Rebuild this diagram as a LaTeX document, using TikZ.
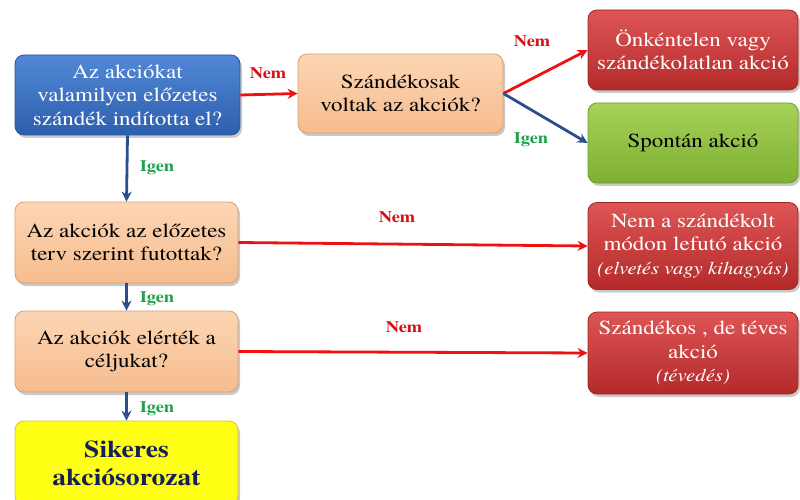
\documentclass[tikz,border=0pt]{standalone}
\usepackage{fontspec}
\setmainfont{texgyretermes}[Extension=.otf, UprightFont=*-regular,
  BoldFont=*-bold, ItalicFont=*-italic, BoldItalicFont=*-bolditalic,
  FakeStretch=1.15]
\usetikzlibrary{shadows,arrows.meta}
\definecolor{bluetop}{HTML}{5288D6}
\definecolor{bluebot}{HTML}{2C5FAE}
\definecolor{blueedge}{HTML}{2A5598}
\definecolor{peachtop}{HTML}{FCD6B4}
\definecolor{peachbot}{HTML}{F6BC8E}
\definecolor{peachedge}{HTML}{D9A074}
\definecolor{redtop}{HTML}{DE5555}
\definecolor{redbot}{HTML}{B42A2A}
\definecolor{rededge}{HTML}{A02424}
\definecolor{greentop}{HTML}{A6D25A}
\definecolor{greenbot}{HTML}{7DB030}
\definecolor{greenedge}{HTML}{6E9C2A}
\definecolor{yellowfill}{HTML}{FFFF14}
\definecolor{yellowedge}{HTML}{D8C040}
\definecolor{noline}{HTML}{EE1111}
\definecolor{yesline}{HTML}{2B4F8C}
\definecolor{nolabel}{HTML}{D40F0F}
\definecolor{yeslabel}{HTML}{1FA04A}
\definecolor{navytext}{HTML}{14205A}
\newcommand\remarkfont{\fontsize{18}{22}\selectfont\itshape}
\tikzset{
  x=1pt, y=-1pt,
  box/.style={rectangle, rounded corners=9pt, align=center, line width=0.8pt,
    drop shadow={shadow xshift=2pt, shadow yshift=-3pt, opacity=0.35, fill=black!60},
    inner sep=2pt, font=\fontsize{20}{23.5}\selectfont},
  bluebox/.style={box, draw=blueedge, top color=bluetop, bottom color=bluebot, text=white},
  peachbox/.style={box, draw=peachedge, top color=peachtop, bottom color=peachbot, text=black},
  redbox/.style={box, draw=rededge, top color=redtop, bottom color=redbot, text=white},
  greenbox/.style={box, draw=greenedge, top color=greentop, bottom color=greenbot, text=black},
  yellowbox/.style={box, draw=yellowedge, fill=yellowfill, text=navytext,
    font=\fontsize{24}{28}\selectfont\bfseries},
  noarrow/.style={draw=noline, line width=2.8pt, -{Stealth[length=10pt,width=10pt]}},
  yesarrow/.style={draw=yesline, line width=2.8pt, -{Stealth[length=10pt,width=10pt]}},
  nolab/.style={text=nolabel, font=\fontsize{16}{18}\selectfont\bfseries},
  yeslab/.style={text=yeslabel, font=\fontsize{16}{18}\selectfont\bfseries}
}
\begin{document}
\begin{tikzpicture}
\useasboundingbox (0,0) rectangle (800,500);
\clip (0,0) rectangle (800,500);
% question boxes on the left
\node[bluebox, minimum width=225pt, minimum height=80pt] (q1) at (127.5,95)
  {Az akciókat\\valamilyen előzetes\\szándék indította el?};
\node[peachbox, minimum width=205pt, minimum height=79pt] (q2) at (400.5,93.5)
  {Szándékosak\\voltak az akciók?};
\node[peachbox, minimum width=223pt, minimum height=81pt] (q3) at (126.5,242.5)
  {Az akciók az előzetes\\terv szerint futottak?};
\node[peachbox, minimum width=223pt, minimum height=81pt] (q4) at (126.5,351.5)
  {Az akciók elérték a\\céljukat?};
\node[yellowbox, minimum width=223pt, minimum height=84pt] (ok) at (126.5,463)
  {Sikeres\\akciósorozat};
% outcome boxes on the right
\node[redbox, minimum width=210pt, minimum height=80pt] (r1) at (693,50)
  {Önkéntelen vagy\\szándékolatlan akció};
\node[greenbox, minimum width=210pt, minimum height=80pt] (g1) at (693,143)
  {Spontán akció};
\node[redbox, minimum width=210pt, minimum height=87pt] (r2) at (693,246)
  {Nem a szándékolt\\módon lefutó akció\\{\remarkfont (elvetés vagy kihagyás)}};
\node[redbox, minimum width=210pt, minimum height=82pt] (r3) at (693,353)
  {Szándékos , de téves\\akció\\{\remarkfont (tévedés)}};
% connectors
\draw[noarrow] (q1.east) -- (q2.west);
\draw[noarrow] (q2.east) -- (r1.west);
\draw[yesarrow] (q2.east) -- (g1.west);
\draw[yesarrow] (q1.south) -- (q3.north);
\draw[noarrow] (q3.east) -- (r2.west);
\draw[yesarrow] (q3.south) -- (q4.north);
\draw[noarrow] (q4.east) -- (r3.west);
\draw[yesarrow] (q4.south) -- (ok.north);
% branch labels
\node[nolab] (l1) at (268,73) {Nem};
\node[nolab] (l2) at (532,41) {Nem};
\node[yeslab] (l3) at (531,140) {Igen};
\node[yeslab] (l4) at (157,168) {Igen};
\node[nolab] (l5) at (397,217) {Nem};
\node[yeslab] (l6) at (157,299) {Igen};
\node[nolab] (l7) at (404,327) {Nem};
\node[yeslab] (l8) at (157,409) {Igen};
\end{tikzpicture}
\end{document}
